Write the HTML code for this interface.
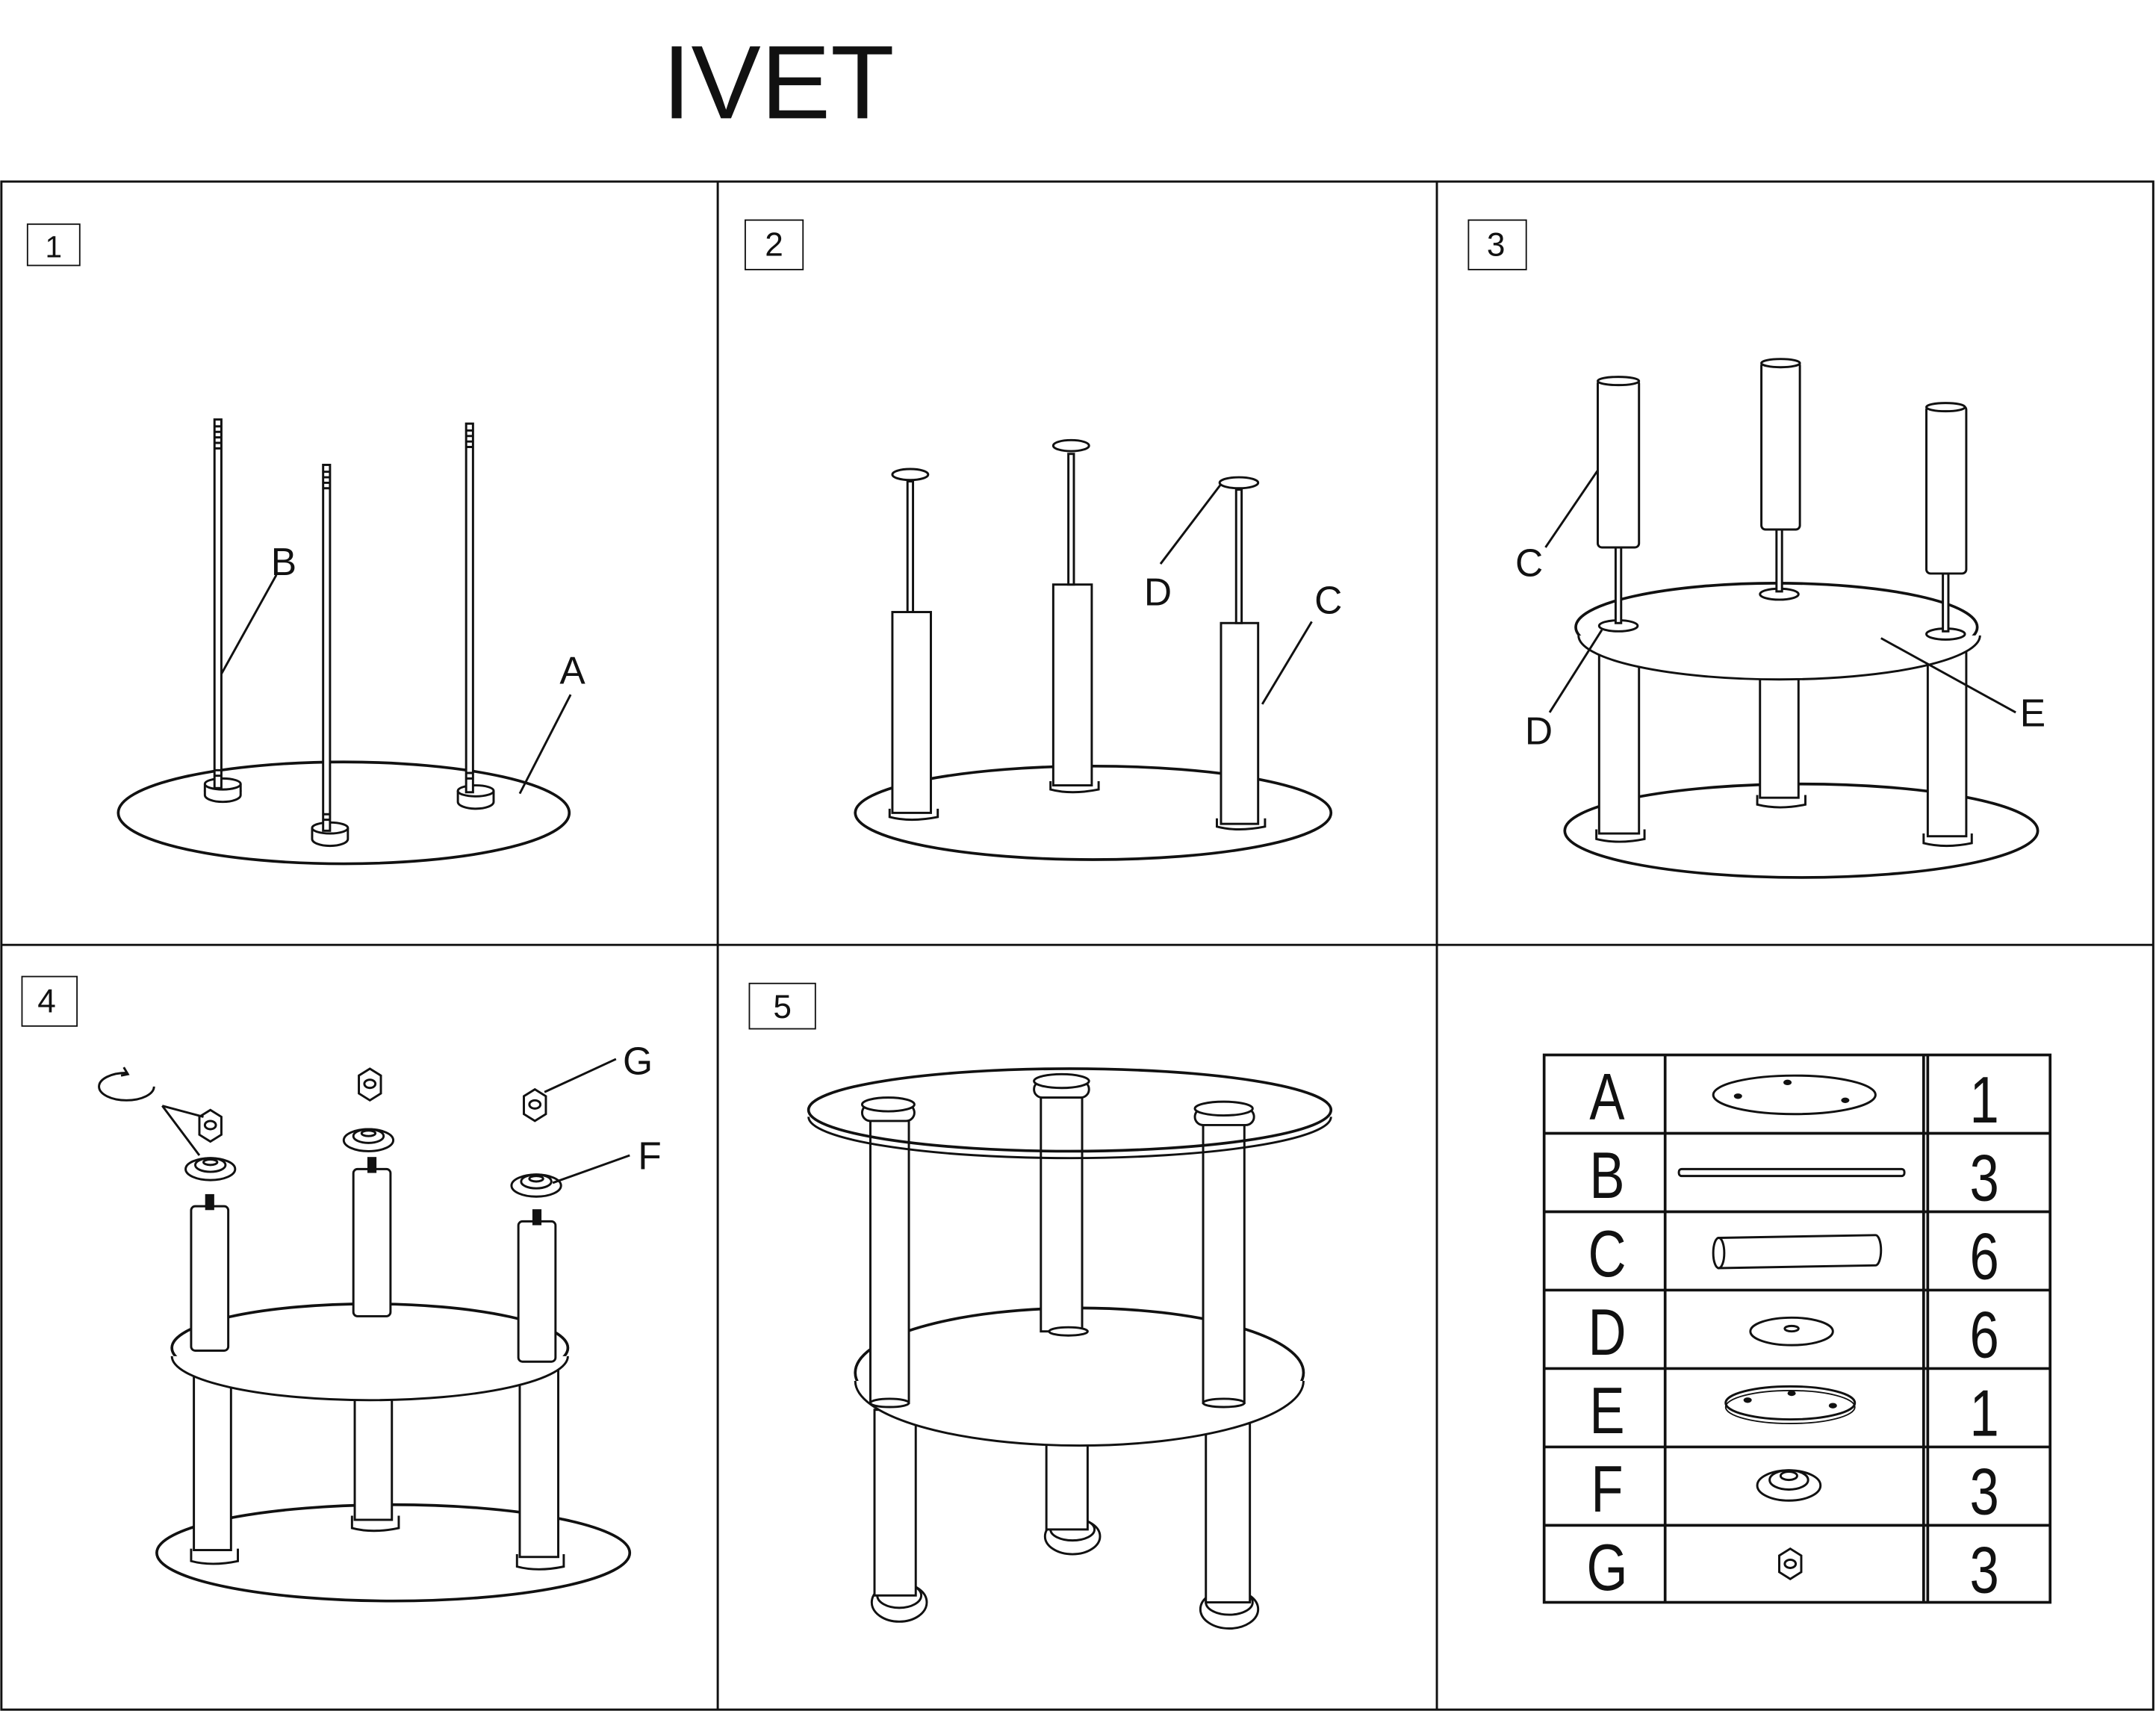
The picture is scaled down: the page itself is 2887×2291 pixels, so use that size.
<!DOCTYPE html>
<html><head><meta charset="utf-8"><style>
html,body{margin:0;padding:0;background:#fff}
svg{display:block}
text{font-family:"Liberation Sans",sans-serif;fill:#111}
</style></head><body>
<svg width="2887" height="2291" viewBox="0 0 1568 1244" preserveAspectRatio="none" xmlns="http://www.w3.org/2000/svg">
<g fill="none" stroke="#111" stroke-width="1.6">
<!-- grid -->
<rect x="1" y="132" width="1565" height="1111"/>
<line x1="1" y1="687" x2="1566" y2="687"/>
<line x1="522" y1="132" x2="522" y2="1243"/>
<line x1="1045" y1="132" x2="1045" y2="1243"/>
<!-- step boxes -->
<rect x="20" y="163" width="38" height="30" stroke-width="1"/>
<rect x="542" y="160" width="42" height="36" stroke-width="1"/>
<rect x="1068" y="160" width="42" height="36" stroke-width="1"/>
<rect x="16" y="710" width="40" height="36" stroke-width="1"/>
<rect x="545" y="715" width="48" height="33" stroke-width="1"/>

<!-- Panel 1 -->
<ellipse cx="250" cy="591" rx="164" ry="37" stroke-width="2"/>
<g fill="#fff">
<ellipse cx="162" cy="575" rx="13" ry="5"/><rect x="149" y="570" width="26" height="8" stroke="none"/><path d="M149 570v8a13 5 0 0 0 26 0v-8"/><ellipse cx="162" cy="570" rx="13" ry="4"/>
<path d="M227 602v8a13 5 0 0 0 26 0v-8"/><ellipse cx="240" cy="602" rx="13" ry="4"/>
<path d="M333 575v8a13 5 0 0 0 26 0v-8"/><ellipse cx="346" cy="575" rx="13" ry="4"/>
<rect x="156" y="305" width="5" height="268"/>
<rect x="235" y="338" width="5" height="266"/>
<rect x="339" y="308" width="5" height="268"/>
</g>
<path d="M156 310h5M156 314h5M156 318h5M156 322h5M156 326h5M235 343h5M235 347h5M235 351h5M235 355h5M339 313h5M339 317h5M339 321h5M339 325h5M156 560h5M156 564h5M339 562h5M339 566h5M235 592h5M235 596h5"/>
<path d="M161 490L201 418M378 577L415 505"/>

<!-- Panel 2 -->
<ellipse cx="795" cy="591" rx="173" ry="34" stroke-width="2"/>
<g fill="#fff">
<path d="M647 588v6q15 4 35 0v-6"/><path d="M764 568v6q15 4 35 0v-6"/><path d="M885 595v6q15 4 35 0v-6"/>
<rect x="649" y="445" width="28" height="146"/>
<rect x="766" y="425" width="28" height="146"/>
<rect x="888" y="453" width="27" height="146"/>
<rect x="660" y="350" width="4" height="95"/>
<rect x="777" y="330" width="4" height="95"/>
<rect x="899" y="356" width="4" height="97"/>
<ellipse cx="662" cy="345" rx="13" ry="4"/><ellipse cx="779" cy="324" rx="13" ry="4"/><ellipse cx="901" cy="351" rx="14" ry="4"/>
</g>
<path d="M844 410L888 352M918 512L954 452"/>

<!-- Panel 3 -->
<ellipse cx="1310" cy="604" rx="172" ry="34" stroke-width="2"/>
<g fill="#fff">
<path d="M1161 603v7q16 4 35 0v-7"/><path d="M1278 578v7q16 4 35 0v-7"/><path d="M1399 606v7q16 4 35 0v-7"/>
<rect x="1163" y="470" width="29" height="136"/>
<rect x="1280" y="480" width="28" height="100"/>
<rect x="1402" y="470" width="28" height="138"/>
<ellipse cx="1292" cy="456" rx="146" ry="32" stroke-width="2"/>
<path d="M1148 462a146 32 0 0 0 292 0" />
<ellipse cx="1177" cy="455" rx="14" ry="4"/><ellipse cx="1294" cy="432" rx="14" ry="4"/><ellipse cx="1415" cy="461" rx="14" ry="4"/>
<rect x="1175" y="398" width="4" height="55"/><rect x="1292" y="385" width="4" height="45"/><rect x="1413" y="417" width="4" height="42"/>
<rect x="1162" y="276" width="30" height="122" rx="3"/><ellipse cx="1177" cy="277" rx="15" ry="3"/>
<rect x="1281" y="263" width="28" height="122" rx="3"/><ellipse cx="1295" cy="264" rx="14" ry="3"/>
<rect x="1401" y="295" width="29" height="122" rx="3"/><ellipse cx="1415" cy="296" rx="14" ry="3"/>
</g>
<path d="M1124 398L1162 342M1127 518L1165 458M1368 464L1466 518"/>

<!-- Panel 4 -->
<ellipse cx="286" cy="1129" rx="172" ry="35" stroke-width="2"/>
<g fill="#fff">
<path d="M139 1126v9q15 4 34 0v-9"/><path d="M256 1102v9q15 4 34 0v-9"/><path d="M376 1130v9q15 4 34 0v-9"/>
<rect x="141" y="995" width="27" height="132"/>
<rect x="258" y="1010" width="27" height="95"/>
<rect x="378" y="990" width="28" height="142"/>
<ellipse cx="269" cy="980" rx="144" ry="32" stroke-width="2"/>
<path d="M125 986a144 32 0 0 0 288 0"/>
<rect x="139" y="877" width="27" height="105" rx="3"/>
<rect x="257" y="850" width="27" height="107" rx="3"/>
<rect x="377" y="888" width="27" height="102" rx="3"/>
<rect x="150" y="869" width="5" height="10" fill="#111"/>
<rect x="268" y="842" width="5" height="10" fill="#111"/>
<rect x="388" y="880" width="5" height="10" fill="#111"/>
<ellipse cx="153" cy="850" rx="18" ry="8"/><ellipse cx="153" cy="847" rx="11" ry="5"/><ellipse cx="153" cy="845" rx="5" ry="2"/>
<ellipse cx="268" cy="829" rx="18" ry="8"/><ellipse cx="268" cy="826" rx="11" ry="5"/><ellipse cx="268" cy="824" rx="5" ry="2"/>
<ellipse cx="390" cy="862" rx="18" ry="8"/><ellipse cx="390" cy="859" rx="11" ry="5"/><ellipse cx="390" cy="857" rx="5" ry="2"/>
<path d="M145 812l8-5 8 5v13l-8 5-8-5z"/><ellipse cx="153" cy="818" rx="4" ry="3"/>
<path d="M261 782l8-5 8 5v13l-8 5-8-5z"/><ellipse cx="269" cy="788" rx="4" ry="3"/>
<path d="M381 797l8-5 8 5v13l-8 5-8-5z"/><ellipse cx="389" cy="803" rx="4" ry="3"/>
</g>
<path d="M118 804L145 840M118 804L148 812M396 794L448 770M402 860L458 840"/>
<path d="M112 790a20 10 0 1 1 -20 -10"/><path d="M90 776l3 5-5 1" />

<!-- Panel 5 -->
<g fill="#fff">
<ellipse cx="654" cy="1165" rx="20" ry="14"/><ellipse cx="654" cy="1160" rx="16" ry="9"/>
<ellipse cx="780" cy="1117" rx="20" ry="13"/><ellipse cx="780" cy="1112" rx="16" ry="8"/>
<ellipse cx="894" cy="1170" rx="21" ry="14"/><ellipse cx="894" cy="1165" rx="17" ry="9"/>
<rect x="636" y="1025" width="30" height="135"/>
<rect x="761" y="1040" width="30" height="72"/>
<rect x="877" y="1035" width="32" height="130"/>
<ellipse cx="785" cy="998" rx="163" ry="47" stroke-width="2"/>
<path d="M622 1004a163 47 0 0 0 326 0"/>
<rect x="633" y="808" width="28" height="212"/>
<rect x="757" y="790" width="30" height="178"/>
<rect x="875" y="810" width="30" height="210"/>
<ellipse cx="778" cy="807" rx="190" ry="30" stroke-width="2" fill="none"/>
<path d="M588 812a190 30 0 0 0 380 0" fill="none"/>
<rect x="627" y="803" width="38" height="12" rx="6"/><ellipse cx="646" cy="803" rx="19" ry="5"/>
<rect x="752" y="786" width="40" height="12" rx="6"/><ellipse cx="772" cy="786" rx="20" ry="5"/>
<rect x="869" y="806" width="43" height="12" rx="6"/><ellipse cx="890" cy="806" rx="21" ry="5"/>
<ellipse cx="777" cy="968" rx="14" ry="3"/><ellipse cx="890" cy="1020" rx="15" ry="3"/><ellipse cx="647" cy="1020" rx="14" ry="3"/>
</g>

<!-- Parts table -->
<rect x="1123" y="767" width="368" height="398" stroke-width="2"/>
<path d="M1211 767v398M1399 767v398M1402 767v398" stroke-width="2"/>
<path d="M1123 824h368M1123 881h368M1123 938h368M1123 995h368M1123 1052h368M1123 1109h368" stroke-width="2"/>
<ellipse cx="1305" cy="796" rx="59" ry="14"/>
<rect x="1221" y="850" width="164" height="5" rx="2"/>
<path d="M1250 900l114-2a4 11 0 0 1 0 22l-114 2z" fill="#fff"/><ellipse cx="1250" cy="911" rx="4" ry="11" fill="#fff"/>
<ellipse cx="1303" cy="968" rx="30" ry="10"/><ellipse cx="1303" cy="966" rx="5" ry="2"/>
<ellipse cx="1302" cy="1020" rx="47" ry="12"/><ellipse cx="1302" cy="1023" rx="47" ry="12" stroke-width="1"/>
<ellipse cx="1301" cy="1080" rx="23" ry="11"/><ellipse cx="1301" cy="1076" rx="14" ry="7"/><ellipse cx="1301" cy="1073" rx="6" ry="3"/>
<path d="M1294 1131l8-5 8 5v12l-8 5-8-5z"/><ellipse cx="1302" cy="1137" rx="4" ry="3"/>
</g>
<g fill="#111">
<ellipse cx="1264" cy="797" rx="3" ry="2"/><ellipse cx="1300" cy="787" rx="3" ry="2"/><ellipse cx="1342" cy="800" rx="3" ry="2"/>
<ellipse cx="1271" cy="1018" rx="3" ry="2"/><ellipse cx="1303" cy="1013" rx="3" ry="2"/><ellipse cx="1333" cy="1022" rx="3" ry="2"/>
</g>

<text x="566" y="86" font-size="76" text-anchor="middle">IVET</text>
<text x="39" y="187" font-size="22" text-anchor="middle">1</text>
<text x="563" y="186" font-size="24" text-anchor="middle">2</text>
<text x="1088" y="186" font-size="24" text-anchor="middle">3</text>
<text x="34" y="736" font-size="24" text-anchor="middle">4</text>
<text x="569" y="740" font-size="24" text-anchor="middle">5</text>
<g font-size="28">
<text x="197" y="418">B</text><text x="407" y="497">A</text>
<text x="832" y="440">D</text><text x="956" y="446">C</text>
<text x="1102" y="419">C</text><text x="1109" y="541">D</text><text x="1469" y="528">E</text>
<text x="453" y="781">G</text><text x="464" y="850">F</text>
</g>
<g font-size="48" text-anchor="middle" transform="scale(0.8,1)">
<text x="1461" y="814">A</text><text x="1461" y="871">B</text><text x="1461" y="928">C</text><text x="1461" y="985">D</text><text x="1461" y="1042">E</text><text x="1461" y="1099">F</text><text x="1461" y="1156">G</text>
<text x="1804" y="816">1</text><text x="1804" y="873">3</text><text x="1804" y="930">6</text><text x="1804" y="987">6</text><text x="1804" y="1044">1</text><text x="1804" y="1101">3</text><text x="1804" y="1158">3</text>
</g>
</svg>
</body></html>
